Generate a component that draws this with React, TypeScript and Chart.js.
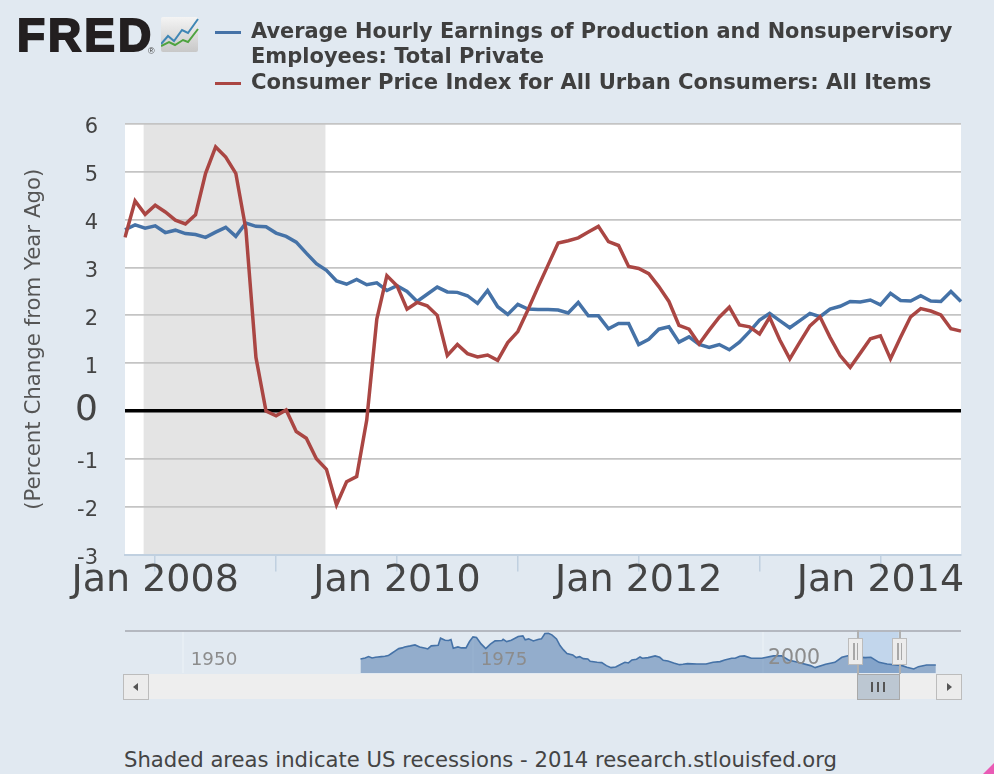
import React, { useEffect, useRef } from "react";
import { Chart, registerables } from "chart.js";

Chart.register(...registerables);

const months: string[] = [
  "Oct 2007","Nov 2007","Dec 2007",
  "Jan 2008","Feb 2008","Mar 2008","Apr 2008","May 2008","Jun 2008","Jul 2008","Aug 2008","Sep 2008","Oct 2008","Nov 2008","Dec 2008",
  "Jan 2009","Feb 2009","Mar 2009","Apr 2009","May 2009","Jun 2009","Jul 2009","Aug 2009","Sep 2009","Oct 2009","Nov 2009","Dec 2009",
  "Jan 2010","Feb 2010","Mar 2010","Apr 2010","May 2010","Jun 2010","Jul 2010","Aug 2010","Sep 2010","Oct 2010","Nov 2010","Dec 2010",
  "Jan 2011","Feb 2011","Mar 2011","Apr 2011","May 2011","Jun 2011","Jul 2011","Aug 2011","Sep 2011","Oct 2011","Nov 2011","Dec 2011",
  "Jan 2012","Feb 2012","Mar 2012","Apr 2012","May 2012","Jun 2012","Jul 2012","Aug 2012","Sep 2012","Oct 2012","Nov 2012","Dec 2012",
  "Jan 2013","Feb 2013","Mar 2013","Apr 2013","May 2013","Jun 2013","Jul 2013","Aug 2013","Sep 2013","Oct 2013","Nov 2013","Dec 2013",
  "Jan 2014","Feb 2014","Mar 2014","Apr 2014","May 2014","Jun 2014","Jul 2014","Aug 2014","Sep 2014",
];

const earnings: number[] = [
  3.79,3.89,3.82,3.87,3.73,3.78,3.71,3.69,3.63,3.74,3.84,3.65,3.93,3.86,3.85,3.72,3.65,3.53,3.30,3.08,2.94,
  2.72,2.65,2.75,2.64,2.68,2.52,2.62,2.50,2.29,2.44,2.59,2.49,2.48,2.41,2.25,2.52,2.18,2.02,2.23,2.13,2.12,
  2.12,2.11,2.05,2.27,1.99,1.99,1.72,1.83,1.83,1.39,1.50,1.71,1.76,1.44,1.55,1.39,1.33,1.39,1.28,1.44,1.66,
  1.90,2.04,1.89,1.74,1.89,2.04,1.97,2.13,2.19,2.29,2.28,2.32,2.22,2.46,2.31,2.30,2.41,2.30,2.29,2.50,2.29,
];

const cpi: number[] = [
  3.63,4.39,4.11,4.30,4.16,3.99,3.91,4.10,4.97,5.52,5.31,4.97,3.80,1.12,0.0,-0.10,0.02,-0.43,-0.57,-1.0,-1.22,
  -1.96,-1.48,-1.37,-0.19,1.92,2.83,2.62,2.13,2.27,2.20,2.00,1.16,1.39,1.20,1.13,1.17,1.06,1.43,1.66,2.11,2.59,
  3.05,3.51,3.56,3.62,3.74,3.86,3.54,3.46,3.02,2.98,2.87,2.60,2.29,1.79,1.71,1.40,1.69,1.96,2.17,1.80,1.76,
  1.61,1.96,1.49,1.09,1.44,1.78,1.97,1.54,1.16,0.91,1.21,1.51,1.57,1.09,1.54,1.97,2.14,2.09,2.01,1.72,1.67,
];

const recessionStart = "Dec 2007";
const recessionEnd = "Jun 2009";

const navYears: number[] = [
  1965.3,1965.7,1966.0,1966.3,1966.6,1966.8,1967.1,1967.4,1967.7,1968.0,1968.3,1968.6,1968.9,1969.1,1969.6,1970.0,1970.4,1970.9,1971.1,1971.4,1972.0,1972.2,1972.6,1972.9,1973.1,1973.3,1973.7,1974.0,1974.4,1974.7,1975.0,1975.3,1975.7,1976.1,1976.5,1976.9,1977.5,1977.6,1977.9,1978.3,1978.9,1979.3,1979.5,1979.8,1980.2,1980.6,1980.9,1981.2,1981.5,1981.8,
  1982.2,1982.5,1982.8,1983.1,1983.6,1983.9,1984.2,1984.5,1984.9,1985.1,1985.7,1986.1,1986.5,1986.9,1987.3,1987.8,1988.1,1988.4,1988.7,1989.1,1989.4,1989.6,1990.1,1990.7,1991.1,1991.4,1991.8,1992.3,1992.8,1993.1,1993.5,1994.3,1995.1,1995.7,1996.3,1996.7,1997.3,1997.6,1998.0,1998.4,
  1999.0,1999.9,2000.9,2001.6,2002.2,2003.0,2004.1,2004.5,2005.4,2006.2,2006.8,2007.4,2008.2,2008.8,2009.3,2010.0,2010.7,2012.0,2012.4,2013.0,2013.4,2014.1,2014.9,
];

const navValues: number[] = [
  3.53,3.78,4.10,3.78,3.94,4.02,4.10,4.19,4.35,4.92,5.49,6.06,6.23,6.47,6.72,6.96,6.47,6.15,5.98,6.72,6.88,8.60,8.11,8.03,8.27,6.15,6.47,6.23,6.23,7.78,8.92,8.76,7.21,6.06,7.13,7.94,8.03,8.35,7.78,8.11,9.00,9.17,8.19,8.43,7.94,8.27,8.43,9.74,9.82,9.41,
  8.43,6.80,5.74,4.84,4.51,3.86,4.10,3.61,3.53,2.96,2.71,2.63,1.90,1.41,1.57,2.31,2.71,2.55,3.29,3.45,4.02,3.69,3.86,4.27,3.94,3.20,3.04,2.55,2.14,2.22,2.39,2.31,2.31,2.71,2.88,3.29,3.69,3.69,4.19,4.27,
  3.69,3.69,4.27,4.27,3.29,2.71,1.90,1.41,2.22,2.71,3.94,4.35,4.02,3.86,3.94,2.71,2.31,1.90,1.49,1.08,1.65,2.06,2.06,
];

const navTicks: number[] = [1950, 1975, 2000];
const navSelection: number[] = [2008.1, 2011.7];

const earningsName = "Average Hourly Earnings of Production and Nonsupervisory Employees: Total Private";
const cpiName = "Consumer Price Index for All Urban Consumers: All Items";
const footerText = "Shaded areas indicate US recessions - 2014 research.stlouisfed.org";
const yAxisTitle = "(Percent Change from Year Ago)";

const BLUE = "#4572a7";
const RED = "#aa4643";
const BG = "#e1e9f1";
const FONT = "'DejaVu Sans', sans-serif";

const plotBackground = {
  id: "plotBackground",
  beforeDraw(chart: any) {
    const { ctx, chartArea, scales } = chart;
    ctx.save();
    ctx.fillStyle = "#ffffff";
    ctx.fillRect(chartArea.left, chartArea.top, chartArea.right - chartArea.left, chartArea.bottom - chartArea.top);
    const a = scales.x.getPixelForValue(months.indexOf(recessionStart)) - 1.5;
    const b = scales.x.getPixelForValue(months.indexOf(recessionEnd)) - 1;
    ctx.fillStyle = "#e4e4e4";
    ctx.fillRect(a, chartArea.top, b - a, chartArea.bottom - chartArea.top);
    ctx.restore();
  },
};

const navBackground = {
  id: "navBackground",
  beforeDatasetsDraw(chart: any) {
    const { ctx, chartArea, scales } = chart;
    const a = scales.x.getPixelForValue(navSelection[0]);
    const b = scales.x.getPixelForValue(navSelection[1]);
    ctx.save();
    ctx.fillStyle = "#c2d6ec";
    ctx.fillRect(a, chartArea.top, b - a, chartArea.bottom - chartArea.top);
    ctx.restore();
  },
};

function Grip({ left, top, count, height, gap, color }: any) {
  const bars = [];
  for (let i = 0; i < count; i++) {
    bars.push(
      <div key={i} style={{ position: "absolute", left: left + i * gap, top, width: 1.5, height, background: color }} />
    );
  }
  return <>{bars}</>;
}

export default function App() {
  const mainRef = useRef<HTMLCanvasElement | null>(null);
  const navRef = useRef<HTMLCanvasElement | null>(null);

  useEffect(() => {
    document.body.style.margin = "0";
    document.body.style.background = BG;
    const main = new Chart(mainRef.current as HTMLCanvasElement, {
      type: "line",
      plugins: [plotBackground],
      data: {
        labels: months,
        datasets: [
          { label: earningsName, data: earnings, borderColor: BLUE, borderWidth: 3.5, pointRadius: 0, tension: 0, order: 2 },
          { label: cpiName, data: cpi, borderColor: RED, borderWidth: 3.5, pointRadius: 0, tension: 0, order: 1 },
        ],
      },
      options: {
        responsive: false,
        animation: false,
        events: [],
        layout: { padding: { top: 124, right: 33, left: 0, bottom: 0 } },
        plugins: { legend: { display: false }, title: { display: false }, tooltip: { enabled: false } },
        scales: {
          x: {
            type: "category",
            offset: false,
            afterFit(scale: any) { scale.height = 85.5; },
            afterBuildTicks(scale: any) {
              scale.ticks = scale.ticks.filter((t: any) => months[t.value].startsWith("Jan"));
            },
            border: { display: true, color: "#c0d0e0", width: 2 },
            grid: { drawOnChartArea: false, drawTicks: true, tickLength: 17, color: "#c0d0e0", lineWidth: 1.5 },
            ticks: {
              autoSkip: false,
              maxRotation: 0,
              minRotation: 0,
              padding: -13,
              color: "#444444",
              font: { family: FONT, size: 38 },
              callback(value: any) {
                const label = months[value as number];
                return Number(label.slice(4)) % 2 === 0 ? label : "";
              },
            },
          },
          y: {
            min: -3,
            max: 6,
            afterFit(scale: any) { scale.width = 125; },
            border: { display: false },
            grid: {
              drawTicks: false,
              color: (c: any) => (c.tick.value === 0 ? "#000000" : "#c4c4c4"),
              lineWidth: (c: any) => (c.tick.value === 0 ? 3.5 : 1.7),
            },
            ticks: {
              stepSize: 1,
              padding: 27,
              labelOffset: 4,
              color: "#444444",
              font: (c: any) =>
                c.tick && c.tick.value === 0
                  ? { family: FONT, size: 36, lineHeight: "8px" }
                  : { family: FONT, size: 21 },
              callback: (v: any) => (v === 0 ? ["0", ""] : String(v)),
            },
            title: {
              display: true,
              text: yAxisTitle,
              color: "#555555",
              font: { family: FONT, size: 21.3 },
              padding: { top: 22, bottom: 0 },
            },
          },
        },
      } as any,
    });

    const nav = new Chart(navRef.current as HTMLCanvasElement, {
      type: "line",
      plugins: [navBackground],
      data: {
        datasets: [
          {
            label: "Navigator",
            data: navYears.map((x, i) => ({ x, y: navValues[i] })),
            borderColor: BLUE,
            borderWidth: 1.6,
            pointRadius: 0,
            tension: 0,
            fill: "start",
            backgroundColor: "rgba(69,114,167,0.5)",
          },
        ],
      },
      options: {
        responsive: false,
        animation: false,
        events: [],
        plugins: { legend: { display: false }, title: { display: false }, tooltip: { enabled: false } },
        scales: {
          x: {
            type: "linear",
            min: 1945,
            max: 2017.07,
            afterFit(scale: any) { scale.height = 0; },
            afterBuildTicks(scale: any) { scale.ticks = navTicks.map((value) => ({ value })); },
            border: { display: false },
            grid: { drawTicks: false, color: "rgba(238,243,248,0.5)", lineWidth: 2 },
            ticks: {
              z: 1,
              mirror: true,
              maxRotation: 0,
              minRotation: 0,
              padding: 2,
              labelOffset: 31,
              color: "#8c8c8c",
              font: (c: any) => ({ family: FONT, size: c.tick && c.tick.value === 2000 ? 20.5 : 18.3 }),
              callback: (v: any) => String(v),
            },
          },
          y: {
            display: false,
            min: 0.1,
            max: 10.6,
            afterFit(scale: any) { scale.width = 0; },
          },
        },
      } as any,
    });

    return () => {
      main.destroy();
      nav.destroy();
    };
  }, []);

  const abs = (s: React.CSSProperties): React.CSSProperties => ({ position: "absolute", boxSizing: "border-box", ...s });
  const legendText: React.CSSProperties = {
    position: "absolute",
    left: 251,
    fontFamily: FONT,
    fontWeight: 700,
    fontSize: 21,
    lineHeight: "25px",
    color: "#3f3f3f",
    whiteSpace: "nowrap",
  };

  return (
    <div style={{ position: "absolute", left: 0, top: 0, width: 994, height: 774, background: BG, overflow: "hidden" }}>
      <canvas ref={mainRef} width={994} height={640} style={{ position: "absolute", left: 0, top: 0 }} />
      <canvas ref={navRef} width={836} height={43} style={{ position: "absolute", left: 125, top: 630 }} />

      {/* logo */}
      <div
        style={{
          position: "absolute", left: 17, top: 7, fontFamily: "'Liberation Sans', sans-serif", fontWeight: 700,
          fontSize: 46, lineHeight: "56px", color: "#231f20", WebkitTextStroke: "2px #231f20", letterSpacing: 3,
        }}
      >
        FRED
      </div>
      <div style={{ position: "absolute", left: 148, top: 46, fontFamily: "'Liberation Sans', sans-serif", fontSize: 9, color: "#444" }}>®</div>
      <svg width={38} height={36} style={{ position: "absolute", left: 161, top: 17 }}>
        <defs>
          <linearGradient id="logoG" x1="0" y1="0" x2="0" y2="1">
            <stop offset="0" stopColor="#f4f4f4" />
            <stop offset="1" stopColor="#c8c8c8" />
          </linearGradient>
        </defs>
        <rect x={0} y={0} width={37} height={35} rx={2} fill="url(#logoG)" />
        <polyline points="0,27 7,19 13,24 21,13 27,16 37,2" fill="none" stroke="#3f86b5" strokeWidth={2} />
        <polyline points="0,29 8,25 14,28 22,23 27,25 37,12" fill="none" stroke="#4ea33f" strokeWidth={2} />
      </svg>

      {/* legend */}
      <div style={abs({ left: 215, top: 31, width: 26, height: 3, background: BLUE })} />
      <div style={abs({ left: 215, top: 82, width: 26, height: 3, background: RED })} />
      <div style={{ ...legendText, top: 19, fontSize: 20.88 }}>Average Hourly Earnings of Production and Nonsupervisory</div>
      <div style={{ ...legendText, top: 44 }}>Employees: Total Private</div>
      <div style={{ ...legendText, top: 69, fontSize: 21.17 }}>{cpiName}</div>

      {/* navigator top line */}
      <div style={abs({ left: 125, top: 630, width: 836, height: 2, background: "#b4b8c0" })} />

      {/* scrollbar */}
      <div style={abs({ left: 125, top: 674, width: 836, height: 25, background: "#eeeeee" })} />
      <div style={abs({ left: 123, top: 674, width: 26, height: 26, background: "#ececec", border: "1.5px solid #bcbcbc" })} />
      <div style={abs({ left: 133, top: 683, width: 0, height: 0, borderTop: "4.5px solid transparent", borderBottom: "4.5px solid transparent", borderRight: "5px solid #555" })} />
      <div style={abs({ left: 936, top: 674, width: 26, height: 26, background: "#ececec", border: "1.5px solid #bcbcbc" })} />
      <div style={abs({ left: 947, top: 683, width: 0, height: 0, borderTop: "4.5px solid transparent", borderBottom: "4.5px solid transparent", borderLeft: "5px solid #555" })} />
      <div style={abs({ left: 857, top: 674, width: 43, height: 26, background: "#bcc7d2", border: "1.5px solid #a9a9a9" })} />
      <Grip left={871} top={682} count={3} height={10} gap={6} color="#555" />

      {/* selection handles */}
      <div style={abs({ left: 857, top: 630, width: 1.5, height: 44, background: "#b0b0b0" })} />
      <div style={abs({ left: 899, top: 630, width: 1.5, height: 44, background: "#b0b0b0" })} />
      <div style={abs({ left: 848, top: 638, width: 15, height: 27, background: "#ececec", border: "1.5px solid #bcbcbc" })} />
      <div style={abs({ left: 892, top: 638, width: 15, height: 27, background: "#ececec", border: "1.5px solid #bcbcbc" })} />
      <Grip left={853} top={643} count={2} height={17} gap={3.5} color="#a8a8a8" />
      <Grip left={897} top={643} count={2} height={17} gap={3.5} color="#a8a8a8" />

      {/* footer */}
      <div style={{ position: "absolute", left: 124, top: 747, fontFamily: FONT, fontSize: 21.16, lineHeight: "26px", color: "#444444", whiteSpace: "nowrap" }}>
        {footerText}
      </div>
      <div style={abs({ left: 983, top: 763, width: 11, height: 11, background: "#e95bb5", clipPath: "polygon(100% 0, 100% 100%, 0 100%)" })} />
    </div>
  );
}
